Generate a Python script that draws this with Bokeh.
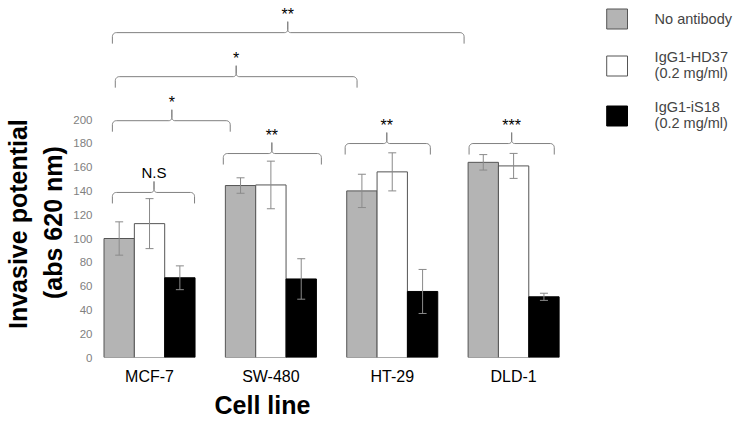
import numpy as np
from bokeh.plotting import figure
from bokeh.models import (ColumnDataSource, Range1d, FixedTicker, Whisker, TeeHead,
                          Title, Legend, LegendItem)
from bokeh.embed import file_html
from bokeh.resources import INLINE
from bokeh.core.properties import value

# ---------------- data ----------------
groups = ["MCF-7", "SW-480", "HT-29", "DLD-1"]
series_labels = ["No antibody", "IgG1-HD37\n(0.2 mg/ml)", "IgG1-iS18\n(0.2 mg/ml)"]

no_antibody = [100, 144.5, 140, 164]
no_antibody_err = [14, 6.5, 14, 6.5]
hd37 = [112.5, 145, 156, 161]
hd37_err = [21, 20, 16, 10.5]
is18 = [67, 66, 55.5, 51]
is18_err = [10, 17, 18.5, 3]

y_ticks = [0, 20, 40, 60, 80, 100, 120, 140, 160, 180, 200]

# significance brackets (x in group units, level in y units)
bracket_left = [-0.306, -0.282, -0.306, -0.306, 0.608, 1.612, 2.633]
bracket_right = [2.592, 1.710, 0.665, 0.371, 1.416, 2.314, 3.335]
bracket_mid = [1.139, 0.714, 0.184, 0.037, 1.008, 1.955, 2.984]
bracket_level = [273, 236, 199, 138.7, 171.4, 179.8, 179.8]
bracket_text = ["**", "*", "*", "N.S", "**", "**", "***"]

# ---------------- layout ----------------
FONT = "Liberation Sans"
W, H = 738, 426
FL, FB = 92, 69            # frame left border, bottom border
FW, FH = W - FL, H - FB
PX_X = 122.5               # px per group
PX_Y = 1.19                # px per y unit
x0 = -0.4204
xr = Range1d(x0, x0 + FW / PX_X)
yr = Range1d(0, FH / PX_Y)

p = figure(width=W, height=H, x_range=xr, y_range=yr, output_backend="svg",
           toolbar_location=None, min_border_left=FL, min_border_bottom=FB,
           min_border_top=0, min_border_right=0)
p.outline_line_color = None
p.xgrid.visible = False
p.ygrid.visible = False
p.background_fill_color = "white"

# axes
p.yaxis.ticker = FixedTicker(ticks=y_ticks)
p.yaxis.axis_line_color = None
p.yaxis.major_tick_line_color = None
p.yaxis.minor_tick_line_color = None
p.yaxis.major_tick_out = 0
p.yaxis.major_tick_in = 0
p.yaxis.major_label_standoff = 6
p.yaxis.major_label_text_color = "#7f7f7f"
p.yaxis.major_label_text_font = FONT
p.yaxis.major_label_text_font_size = "11.5px"

p.xaxis.ticker = FixedTicker(ticks=list(range(len(groups))))
p.xaxis.major_label_overrides = {i: g for i, g in enumerate(groups)}
p.xaxis.axis_line_color = None
p.xaxis.major_tick_line_color = None
p.xaxis.minor_tick_line_color = None
p.xaxis.major_tick_out = 0
p.xaxis.major_tick_in = 0
p.xaxis.major_label_standoff = 10
p.xaxis.major_label_text_color = "black"
p.xaxis.major_label_text_font = FONT
p.xaxis.major_label_text_font_size = "16px"

# bars
bar_w = 0.25
offsets = [-bar_w, 0.0, bar_w]
fills = ["#b4b4b4", "white", "black"]
lines = ["#555555", "#555555", "black"]
vals = [no_antibody, hd37, is18]
errs = [no_antibody_err, hd37_err, is18_err]
gx = np.arange(len(groups))
renderers = []
for off, fc, lc, v, e in zip(offsets, fills, lines, vals, errs):
    v = np.array(v, float)
    e = np.array(e, float)
    src = ColumnDataSource(dict(x=gx + off, top=v, upper=v + e, lower=v - e))
    r = p.vbar(x="x", top="top", bottom=0, width=bar_w, source=src,
               fill_color=fc, line_color=lc, line_width=1)
    renderers.append(r)
    wk = Whisker(base="x", upper="upper", lower="lower", source=src, dimension="height",
                 line_color="#8a8a8a", line_width=1, level="annotation",
                 upper_head=TeeHead(size=8, line_color="#8a8a8a", line_width=1),
                 lower_head=TeeHead(size=8, line_color="#8a8a8a", line_width=1))
    p.add_layout(wk)

# brackets
DROP, PEAK, RAD, CURL = 11, 11, 4, 3   # px
def arc(xc, yc, rpx, a0, a1, n=8):
    t = np.linspace(np.radians(a0), np.radians(a1), n)
    return list(xc + rpx * np.cos(t) / PX_X), list(yc + rpx * np.sin(t) / PX_Y)

bxs, bys = [], []
for xa, xb, xm, yl in zip(bracket_left, bracket_right, bracket_mid, bracket_level):
    rx, ry = RAD / PX_X, RAD / PX_Y
    cxu, cyu = CURL / PX_X, CURL / PX_Y
    xs = [xa]; ys = [yl - DROP / PX_Y]
    ax, ay = arc(xa + rx, yl - ry, RAD, 180, 90); xs += ax; ys += ay
    ax, ay = arc(xm - cxu, yl + cyu, CURL, -90, 0); xs += ax; ys += ay
    xs.append(xm); ys.append(yl + PEAK / PX_Y)
    ax, ay = arc(xm + cxu, yl + cyu, CURL, 180, 270); xs += ax; ys += ay
    ax, ay = arc(xb - rx, yl - ry, RAD, 90, 0); xs += ax; ys += ay
    xs.append(xb); ys.append(yl - DROP / PX_Y)
    bxs.append(xs); bys.append(ys)
p.multi_line(xs=bxs, ys=bys, line_color="#808080", line_width=1)

ymax = FH / PX_Y
txt_y = []
for t, yl in zip(bracket_text, bracket_level):
    off = 17 if t == "N.S" else 15
    txt_y.append(min(yl + off, ymax - 12 / PX_Y))
tsrc = ColumnDataSource(dict(x=bracket_mid, y=txt_y, text=bracket_text,
                             size=["15px" if t == "N.S" else "16px" for t in bracket_text]))
p.text(x="x", y="y", text="text", source=tsrc, text_align="center",
       text_baseline="alphabetic", text_font=value(FONT), text_font_size="size",
       text_color="black")

# axis titles (side-panel titles so they sit outside the frame)
p.add_layout(Title(text="(abs 620 nm)", align="left", offset=58.5, standoff=8,
                   text_font=FONT, text_font_size="25px", text_font_style="bold",
                   text_color="black"), "left")
p.add_layout(Title(text="Invasive potential", align="left", offset=28.5, standoff=2,
                   text_font=FONT, text_font_size="25px", text_font_style="bold",
                   text_color="black"), "left")
p.add_layout(Title(text="Cell line", align="left", offset=116, standoff=3,
                   text_font=FONT, text_font_size="25px", text_font_style="bold",
                   text_color="black"), "below")

# legend
legend = Legend(items=[LegendItem(label=l, renderers=[r]) for l, r in zip(series_labels, renderers)],
                location="top_right", glyph_width=26, glyph_height=25, label_standoff=25,
                spacing=18, padding=0, margin=6, border_line_color=None,
                background_fill_alpha=0, label_text_font=FONT,
                label_text_font_size="14.5px", label_text_line_height=1.05)
p.add_layout(legend)

open("out.html", "w").write(file_html(p, INLINE))
